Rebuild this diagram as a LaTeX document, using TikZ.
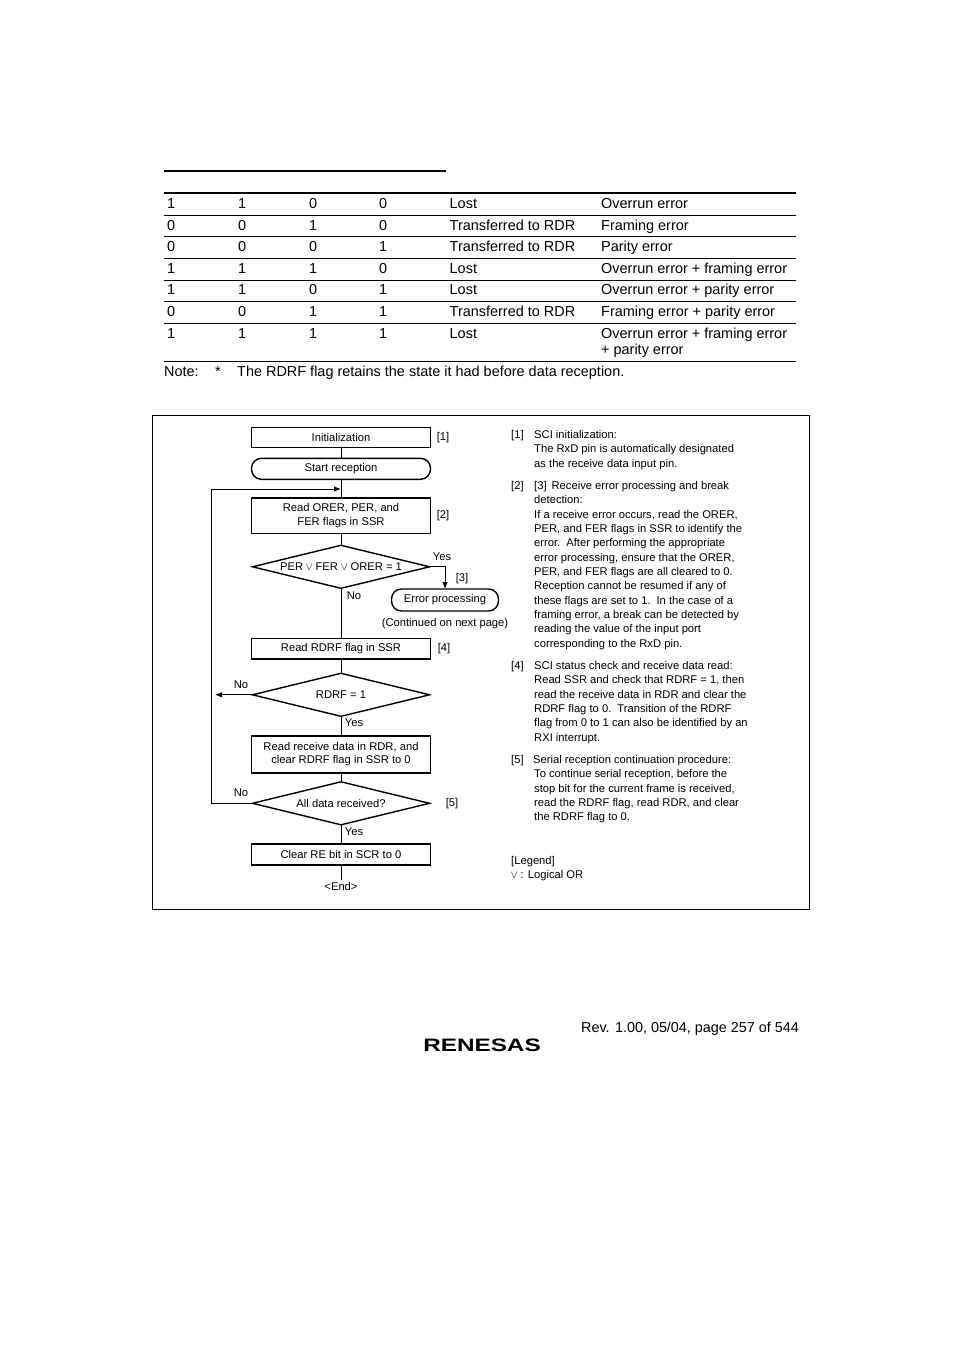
\documentclass[tikz,border=0pt]{standalone}
\usepackage{fontspec}
\setmainfont{Liberation Sans}
\usetikzlibrary{shapes.geometric, arrows.meta, positioning}
\newcommand{\orsym}{\ensuremath{\kern-.5pt\vee\kern-.5pt}}
\begin{document}
\begin{tikzpicture}[x=1pt, y=-1pt,
        cell/.style={anchor=base west, inner sep=0pt, font=\fontsize{14.45}{16}\selectfont},
        stepbox/.style={draw, line width=1.4pt, outer sep=0pt, minimum width=179pt, inner sep=0pt, align=center, font=\fontsize{11.2}{13.4}\selectfont},
        startbox/.style={stepbox, rounded corners=10pt},
        decision/.style={draw, line width=1.4pt, outer sep=0pt, diamond, aspect=4.16, minimum width=177pt, minimum height=43pt, inner sep=0pt, font=\fontsize{11.2}{14.4}\selectfont},
        tag/.style={anchor=base, inner sep=0pt, font=\fontsize{11.2}{14.4}\selectfont},
        desc/.style={anchor=north west, inner sep=0pt, align=left, font=\fontsize{11.2}{14.36}\selectfont},
        line/.style={line width=0.9pt},
        rel/.style={line width=0.9pt, -{Latex[length=7pt, width=5.5pt]}}
    ]
        \useasboundingbox (0,0) rectangle (954,1351);
        % table rules
        \draw[line width=1.6pt] (164,171) -- (446,171);
        \draw[line width=1.4pt] (164,193) -- (796,193);
        \foreach \y in {215,236,258,280,301,323,361}
            \draw[line width=0.7pt] (164,\y) -- (796,\y);
        % table rows
        \foreach \y/\a/\b/\c/\d/\e/\f [count=\r] in {
            208/1/1/0/0/Lost/Overrun error,
            230/0/0/1/0/Transferred to RDR/Framing error,
            251/0/0/0/1/Transferred to RDR/Parity error,
            273/1/1/1/0/Lost/Overrun error + framing error,
            294/1/1/0/1/Lost/Overrun error + parity error,
            316/0/0/1/1/Transferred to RDR/Framing error + parity error,
            338/1/1/1/1/Lost/Overrun error + framing error} {
            \node[cell] (a\r) at (167,\y) {\a};
            \node[cell] (b\r) at (238,\y) {\b};
            \node[cell] (c\r) at (309,\y) {\c};
            \node[cell] (d\r) at (379,\y) {\d};
            \node[cell] (e\r) at (449.5,\y) {\e};
            \node[cell] (f\r) at (601,\y) {\f};
        }
        \node[cell] (f8) at (601,354) {+ parity error};
        \node[cell] (note) at (164,376) {Note:};
        \node[cell] (star) at (215,376) {*};
        \node[cell] (notetext) at (237,376) {The RDRF flag retains the state it had before data reception.};
        % frame
        \draw[line width=0.9pt] (152.5,415.5) rectangle (809,909);
        % flow
        \node[stepbox, minimum height=20pt] (init) at (341,437.3) {Initialization};
        \node[startbox, minimum height=21pt, below=11pt of init] (start) {Start reception};
        \node[stepbox, minimum height=35.5pt, below=18.5pt of start] (readflags) {Read ORER, PER, and\\FER flags in SSR};
        \node[decision, below=12pt of readflags] (errcheck) {PER \orsym{} FER \orsym{} ORER = 1};
        \node[stepbox, minimum height=20.5pt, below=50pt of errcheck] (readrdrf) {Read RDRF flag in SSR};
        \node[decision, below=14.5pt of readrdrf] (rdrfcheck) {RDRF = 1};
        \node[stepbox, minimum height=37pt, below=19.5pt of rdrfcheck] (readdata) {Read receive data in RDR, and\\clear RDRF flag in SSR to 0};
        \node[decision, below=9pt of readdata] (allcheck) {All data received?};
        \node[stepbox, minimum height=21pt, below=19pt of allcheck] (clearre) {Clear RE bit in SCR to 0};
        \node[tag, inner ysep=2pt, below=15pt of clearre] (endflow) {<End>};
        \node[startbox, minimum width=107pt, minimum height=22pt] (errproc) at (445,600) {Error processing};
        \node[tag, below=7pt of errproc] (contd) {(Continued on next page)};
        \coordinate (loopin) at (341,489);
        \coordinate (loopleft) at (211,489);
        \coordinate (noend) at (215,694);
        \draw[line] (init) -- (start);
        \draw[line] (start) -- (readflags);
        \draw[line] (readflags) -- (errcheck);
        \draw[line] (errcheck) -- (readrdrf);
        \draw[line] (readrdrf) -- (rdrfcheck);
        \draw[line] (rdrfcheck) -- (readdata);
        \draw[line] (readdata) -- (allcheck);
        \draw[line] (allcheck) -- (clearre);
        \draw[line] (clearre) -- (endflow);
        \draw[rel] (errcheck.east) -| (errproc.north);
        \draw[rel] (rdrfcheck.west) -- (noend |- rdrfcheck.west);
        \draw[rel] (allcheck.west) -| (loopleft) -- (loopin);
        % flow labels
        \node[tag] (t1) at (443,440) {[1]};
        \node[tag] (t2) at (443,518) {[2]};
        \node[tag] (t3) at (462,581) {[3]};
        \node[tag] (t4) at (444,651) {[4]};
        \node[tag] (t5) at (452,806) {[5]};
        \node[tag] (y1) at (442,560) {Yes};
        \node[tag] (n1) at (354,599) {No};
        \node[tag] (n2) at (241,688) {No};
        \node[tag] (y2) at (354,726) {Yes};
        \node[tag] (n3) at (241,796) {No};
        \node[tag] (y3) at (354,835) {Yes};
        % notes
        \node[desc] (d1) at (511,430) {[1]};
        \node[desc] (d1t) at (534,430) {SCI initialization:\\The RxD pin is automatically designated\\as the receive data input pin.};
        \node[desc] (d2) at (511,481) {[2]};
        \node[desc] (d2t) at (534,481) {[3]\hspace{5pt}Receive error processing and break\\detection:\\If a receive error occurs, read the ORER,\\PER, and FER flags in SSR to identify the\\error.\hspace{6pt}After performing the appropriate\\error processing, ensure that the ORER,\\PER, and FER flags are all cleared to 0.\\Reception cannot be resumed if any of\\these flags are set to 1.\hspace{6pt}In the case of a\\framing error, a break can be detected by\\reading the value of the input port\\corresponding to the RxD pin.};
        \node[desc] (d4) at (511,661) {[4]};
        \node[desc] (d4t) at (534,661) {SCI status check and receive data read:\\Read SSR and check that RDRF = 1, then\\read the receive data in RDR and clear the\\RDRF flag to 0.\hspace{6pt}Transition of the RDRF\\flag from 0 to 1 can also be identified by an\\RXI interrupt.};
        \node[desc] (d5) at (511,755) {[5]};
        \node[desc] (d5t) at (533,755) {Serial reception continuation procedure:\\\hspace{1pt}To continue serial reception, before the\\\hspace{1pt}stop bit for the current frame is received,\\\hspace{1pt}read the RDRF flag, read RDR, and clear\\\hspace{1pt}the RDRF flag to 0.};
        \node[desc] (legend) at (511,856) {[Legend]\\\orsym{} : Logical OR};
        % footer
        \node[cell, font=\fontsize{14.38}{16}\selectfont] (rev) at (581,1032) {Rev. 1.00, 05/04, page 257 of 544};
        \node[inner sep=0pt, font=\fontsize{18}{20}\selectfont\bfseries] (logo) at (482,1045) {\scalebox{1.35}[1]{RENESAS}};
    \end{tikzpicture}
\end{document}
